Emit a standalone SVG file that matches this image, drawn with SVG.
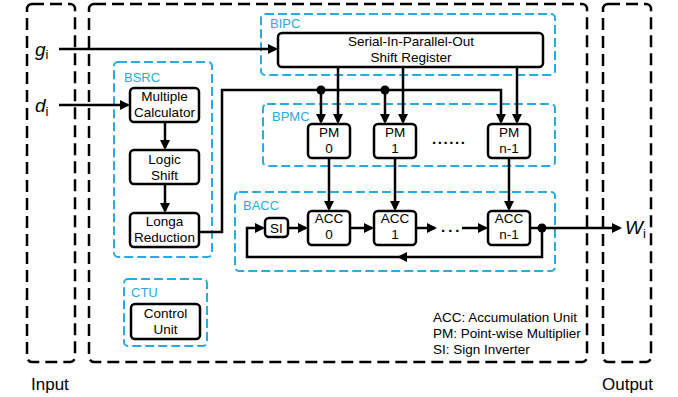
<svg xmlns="http://www.w3.org/2000/svg" width="678" height="397" viewBox="0 0 678 397">
<defs>
<style>
text{font-family:"Liberation Sans",Arial,Helvetica,sans-serif;fill:#000}
.frame{fill:none;stroke:#000;stroke-width:2.5;stroke-dasharray:12 6}
.grp{fill:none;stroke:#29ABE2;stroke-width:2;stroke-dasharray:9 4}
.glabel{fill:#29ABE2;font-size:13px}
.box{fill:#fff;stroke:#000;stroke-width:2.5}
.bt{font-size:13.5px;text-anchor:middle}
.wire{fill:none;stroke:#000;stroke-width:2.5}
.arr{marker-end:url(#ah)}
.leg{font-size:13.5px}
.io{font-size:17px}
.var{font-size:19px;font-style:italic}
.sub{font-size:13px}
.dots{font-size:15px;font-weight:bold}
</style>
<marker id="ah" markerUnits="userSpaceOnUse" markerWidth="11" markerHeight="10" refX="8" refY="5" orient="auto" viewBox="0 0 11 10">
<path d="M0,0 L10,5 L0,10 z" fill="#000"/>
</marker>
</defs>
<rect width="678" height="397" fill="#fff"/>

<g id="frames">
<rect class="frame" x="27" y="4" width="48" height="358" rx="5"/>
<rect class="frame" x="89" y="4" width="498" height="358" rx="5"/>
<rect class="frame" x="603" y="4" width="48" height="358" rx="5"/>
<text class="io" x="31" y="390">Input</text>
<text class="io" x="602" y="390">Output</text>
</g>

<g id="groups">
<rect class="grp" x="261" y="14" width="294" height="61" rx="4"/>
<text class="glabel" x="270" y="28">BIPC</text>
<rect class="grp" x="114" y="62" width="98" height="195" rx="4"/>
<text class="glabel" x="124" y="82">BSRC</text>
<rect class="grp" x="263" y="104" width="292" height="62" rx="4"/>
<text class="glabel" x="272" y="121">BPMC</text>
<rect class="grp" x="235" y="192" width="320" height="79" rx="4"/>
<text class="glabel" x="243" y="210">BACC</text>
<rect class="grp" x="124" y="279" width="83" height="67" rx="4"/>
<text class="glabel" x="131" y="297">CTU</text>
</g>

<g id="connectors">
<path class="wire arr" d="M59,49 H276"/>
<path class="wire arr" d="M59,105 H128"/>
<path class="wire arr" d="M165,122 V148"/>
<path class="wire arr" d="M165,184 V211"/>
<path class="wire arr" d="M199,232 H222 V90 H501 V122"/>
<path class="wire arr" d="M321,90 V122"/>
<path class="wire arr" d="M385,90 V122"/>
<path class="wire arr" d="M338,67 V122"/>
<path class="wire arr" d="M403,67 V122"/>
<path class="wire arr" d="M517,67 V122"/>
<path class="wire arr" d="M329,158 V209"/>
<path class="wire arr" d="M395,158 V209"/>
<path class="wire arr" d="M509,158 V209"/>
<path class="wire arr" d="M288,228 H306"/>
<path class="wire arr" d="M350,228 H372"/>
<path class="wire arr" d="M416,228 H435"/>
<path class="wire arr" d="M462,228 H486"/>
<path class="wire arr" d="M530,228 H620"/>
<path class="wire arr" d="M542,228 V257 H247 V228 H263"/>
<path d="M397,257 L407,252 L407,262 z" fill="#000"/>
<circle cx="321" cy="90" r="4.5" fill="#000"/>
<circle cx="385" cy="90" r="4.5" fill="#000"/>
<circle cx="542" cy="228" r="4.5" fill="#000"/>
<text class="dots" x="432" y="144" style="letter-spacing:1.6px">......</text>
<text class="dots" x="441" y="232" style="letter-spacing:3px">...</text>
</g>

<g id="io-labels">
<text class="var" x="35" y="56">g<tspan class="sub" dy="3" style="font-style:normal">i</tspan></text>
<text class="var" x="35" y="112">d<tspan class="sub" dy="4" style="font-style:normal">i</tspan></text>
<text class="var" x="625" y="234">W<tspan class="sub" dy="4" style="font-style:normal">i</tspan></text>
</g>

<g id="sipo">
<rect class="box" x="278" y="33" width="265" height="34" rx="4"/>
<text class="bt" x="411" y="46">Serial-In-Parallel-Out</text>
<text class="bt" x="411" y="62">Shift Register</text>
</g>
<g id="multiple-calculator">
<rect class="box" x="130" y="88" width="69" height="34" rx="4"/>
<text class="bt" x="164.5" y="101">Multiple</text>
<text class="bt" x="164.5" y="117">Calculator</text>
</g>
<g id="logic-shift">
<rect class="box" x="130" y="150" width="69" height="34" rx="4"/>
<text class="bt" x="164.5" y="164">Logic</text>
<text class="bt" x="164.5" y="180">Shift</text>
</g>
<g id="longa-reduction">
<rect class="box" x="130" y="213" width="69" height="34" rx="4"/>
<text class="bt" x="164.5" y="226">Longa</text>
<text class="bt" x="164.5" y="242">Reduction</text>
</g>
<g id="control-unit">
<rect class="box" x="131" y="304" width="69" height="35" rx="4"/>
<text class="bt" x="165.5" y="318">Control</text>
<text class="bt" x="165.5" y="334">Unit</text>
</g>
<g id="pm0">
<rect class="box" x="308" y="124" width="42" height="34" rx="4"/>
<text class="bt" x="329" y="137">PM</text>
<text class="bt" x="329" y="153">0</text>
</g>
<g id="pm1">
<rect class="box" x="374" y="124" width="42" height="34" rx="4"/>
<text class="bt" x="395" y="137">PM</text>
<text class="bt" x="395" y="153">1</text>
</g>
<g id="pmn1">
<rect class="box" x="488" y="124" width="42" height="34" rx="4"/>
<text class="bt" x="509" y="137">PM</text>
<text class="bt" x="509" y="153">n-1</text>
</g>
<g id="si">
<rect class="box" x="265" y="218" width="23" height="19" rx="4"/>
<text class="bt" x="276.5" y="233">SI</text>
</g>
<g id="acc0">
<rect class="box" x="308" y="211" width="42" height="34" rx="4"/>
<text class="bt" x="329" y="223">ACC</text>
<text class="bt" x="329" y="239">0</text>
</g>
<g id="acc1">
<rect class="box" x="374" y="211" width="42" height="34" rx="4"/>
<text class="bt" x="395" y="223">ACC</text>
<text class="bt" x="395" y="239">1</text>
</g>
<g id="accn1">
<rect class="box" x="488" y="211" width="42" height="34" rx="4"/>
<text class="bt" x="509" y="223">ACC</text>
<text class="bt" x="509" y="239">n-1</text>
</g>

<g id="legend">
<text class="leg" x="433" y="322">ACC: Accumulation Unit</text>
<text class="leg" x="433" y="338">PM: Point-wise Multiplier</text>
<text class="leg" x="433" y="354">SI: Sign Inverter</text>
</g>
</svg>
